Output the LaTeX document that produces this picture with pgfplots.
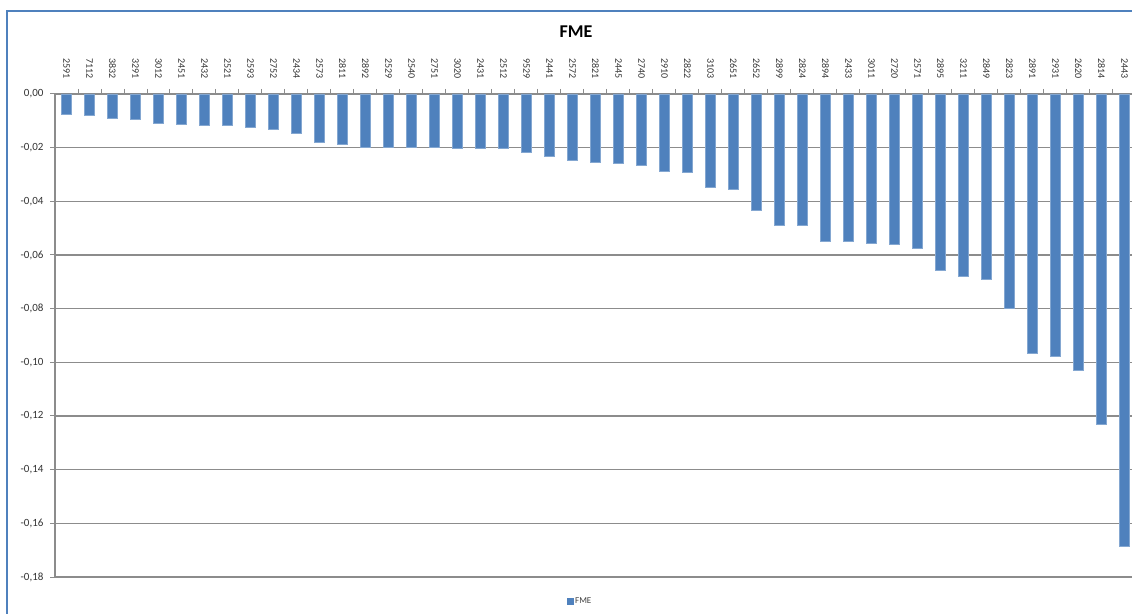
\documentclass[border=0pt]{standalone}
\usepackage{pgfplots}
\pgfplotsset{compat=1.18}
\usepackage{fontspec}
\setmainfont{Carlito}
\definecolor{barblue}{HTML}{4F81BD}
\definecolor{gridgray}{HTML}{8C8C8C}
\begin{document}
\begin{tikzpicture}[x=1pt,y=1pt]
\useasboundingbox (0,0) rectangle (1132,613);
\draw[barblue, line width=2.5pt] (7,-30) -- (7,602) -- (1160,602);
\node[font=\fontsize{18}{18}\selectfont\bfseries] at (576,581) {FME};
\begin{axis}[
  at={(55pt,36pt)}, anchor=south west,
  scale only axis, width=1081pt, height=483pt,
  ybar, bar width=10pt, bar shift=0pt,
  xmin=-0.5, xmax=46.5, ymin=-0.18, ymax=0,
  xtick={0,...,46},
  xticklabels={2591,7112,3832,3291,3012,2451,2432,2521,2593,2752,2434,2573,2811,2892,2529,2540,2751,3020,2431,2512,9529,2441,2572,2821,2445,2740,2910,2822,3103,2651,2652,2899,2824,2894,2433,3011,2720,2571,2895,3211,2849,2823,2891,2931,2620,2814,2443},
  xticklabel pos=upper,
  x tick label style={rotate=-90, anchor=east, font=\fontsize{10}{10}\selectfont, color=black!80, xshift=-7pt},
  major x tick style={draw=none},
  minor x tick num=1,
  minor x tick style={gridgray, line width=1pt},
  minor tick length=5pt,
  ytick={-0.18,-0.16,...,0.001},
  ymajorgrids,
  major grid style={gridgray, line width=1.2pt},
  y tick style={gridgray, line width=1pt},
  major tick length=5pt,
  tick align=outside,
  tick pos=left,
  xtick pos=upper,
  y tick label style={font=\fontsize{11}{11}\selectfont, color=black!80, xshift=-3pt},
  yticklabel style={/pgf/number format/.cd, fixed, fixed zerofill, precision=2, use comma, assume math mode=true},
  axis line style={gridgray, line width=1.2pt},
  axis y line*=left,
  axis x line*=top,
  legend style={at={(0.4857,-0.0497)}, anchor=center, draw=none, font=\fontsize{9}{9}\selectfont, text=black!75},
  legend image code/.code={\fill[barblue] (0pt,-3pt) rectangle (6pt,3pt);},
]
\addplot[fill=barblue, draw=barblue!70!white] coordinates {
(0,-0.0075) (1,-0.0080) (2,-0.0090) (3,-0.0095) (4,-0.0108) (5,-0.0113) (6,-0.0117) (7,-0.0117)
(8,-0.0123) (9,-0.0132) (10,-0.0146) (11,-0.0181) (12,-0.0188) (13,-0.0198) (14,-0.0198) (15,-0.0198)
(16,-0.0198) (17,-0.0202) (18,-0.0202) (19,-0.0203) (20,-0.0216) (21,-0.0231) (22,-0.0246) (23,-0.0254)
(24,-0.0259) (25,-0.0265) (26,-0.0287) (27,-0.0292) (28,-0.0349) (29,-0.0354) (30,-0.0432) (31,-0.0489)
(32,-0.0489) (33,-0.0547) (34,-0.0547) (35,-0.0555) (36,-0.0561) (37,-0.0575) (38,-0.0658) (39,-0.0678)
(40,-0.0692) (41,-0.0799) (42,-0.0966) (43,-0.0977) (44,-0.1030) (45,-0.1232) (46,-0.1685)
};
\addlegendentry{FME}
\end{axis}
\end{tikzpicture}
\end{document}
